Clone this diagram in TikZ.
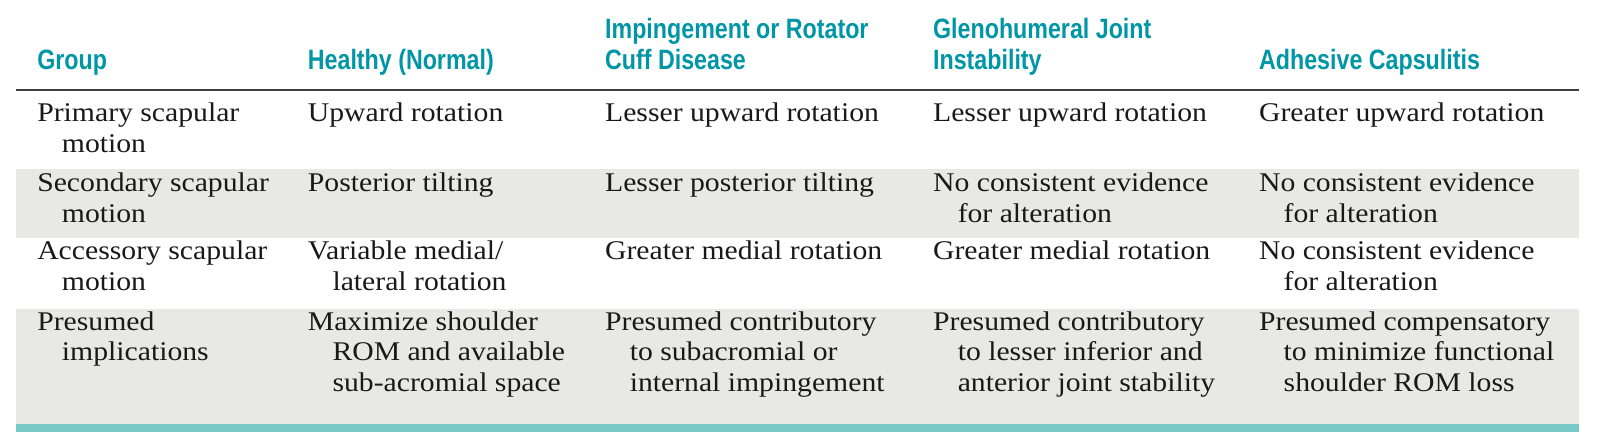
\documentclass[tikz,border=0pt]{standalone}
\usepackage{fontspec}
\setmainfont[FakeStretch=1.1]{Liberation Serif}
\newfontfamily\hdfont[FakeStretch=0.83]{Liberation Sans Bold}
\definecolor{teal1}{RGB}{0,150,165}
\definecolor{bar}{RGB}{120,200,200}
\definecolor{band}{RGB}{232,232,230}
\begin{document}
\begin{tikzpicture}[x=0.5125pt,y=-0.5125pt,
  hd/.style={anchor=base west,inner sep=0,font=\hdfont\fontsize{14}{14}\selectfont,text=teal1},
  tx/.style={anchor=base west,inner sep=0,font=\fontsize{13.5}{13.5}\selectfont,text=black!90}]
\useasboundingbox (0,0) rectangle (1568.8,425.4);
\fill[band] (16,165) rectangle (1540,232);
\fill[band] (16,301) rectangle (1540,414);
\fill[bar] (16,414) rectangle (1540,421);
\draw[black!75,line width=1.2pt] (16,88) -- (1540,88);
% headers
\node[hd] (h1) at (36,68) {Group};
\node[hd] (h2) at (300,68) {Healthy (Normal)};
\node[hd] (h3a) at (590,38) {Impingement or Rotator};
\node[hd] (h3b) at (590,68) {Cuff Disease};
\node[hd] (h4a) at (910,38) {Glenohumeral Joint};
\node[hd] (h4b) at (910,68) {Instability};
\node[hd] (h5) at (1228,68) {Adhesive Capsulitis};
% row 1
\node[tx] (a1) at (36,119) {Primary scapular};
\node[tx] (a1b) at (60,149) {motion};
\node[tx] (b1) at (300,119) {Upward rotation};
\node[tx] (c1) at (590,119) {Lesser upward rotation};
\node[tx] (d1) at (910,119) {Lesser upward rotation};
\node[tx] (e1) at (1228,119) {Greater upward rotation};
% row 2
\node[tx] (a2) at (36,187) {Secondary scapular};
\node[tx] (a2b) at (60,217) {motion};
\node[tx] (b2) at (300,187) {Posterior tilting};
\node[tx] (c2) at (590,187) {Lesser posterior tilting};
\node[tx] (d2) at (910,187) {No consistent evidence};
\node[tx] (d2b) at (934,217) {for alteration};
\node[tx] (e2) at (1228,187) {No consistent evidence};
\node[tx] (e2b) at (1252,217) {for alteration};
% row 3
\node[tx] (a3) at (36,253) {Accessory scapular};
\node[tx] (a3b) at (60,283) {motion};
\node[tx] (b3) at (300,253) {Variable medial/};
\node[tx] (b3b) at (324,283) {lateral rotation};
\node[tx] (c3) at (590,253) {Greater medial rotation};
\node[tx] (d3) at (910,253) {Greater medial rotation};
\node[tx] (e3) at (1228,253) {No consistent evidence};
\node[tx] (e3b) at (1252,283) {for alteration};
% row 4
\node[tx] (a4) at (36,322) {Presumed};
\node[tx] (a4b) at (60,352) {implications};
\node[tx] (b4) at (300,322) {Maximize shoulder};
\node[tx] (b4b) at (324,352) {ROM and available};
\node[tx] (b4c) at (324,382) {sub-acromial space};
\node[tx] (c4) at (590,322) {Presumed contributory};
\node[tx] (c4b) at (614,352) {to subacromial or};
\node[tx] (c4c) at (614,382) {internal impingement};
\node[tx] (d4) at (910,322) {Presumed contributory};
\node[tx] (d4b) at (934,352) {to lesser inferior and};
\node[tx] (d4c) at (934,382) {anterior joint stability};
\node[tx] (e4) at (1228,322) {Presumed compensatory};
\node[tx] (e4b) at (1252,352) {to minimize functional};
\node[tx] (e4c) at (1252,382) {shoulder ROM loss};
\end{tikzpicture}
\end{document}
